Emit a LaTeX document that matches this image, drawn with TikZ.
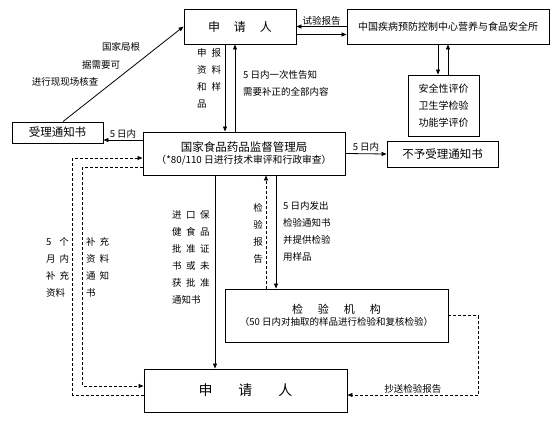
\documentclass[tikz,border=0pt]{standalone}
\usepackage{fontspec}
\setmainfont{Noto Sans CJK SC}
\usetikzlibrary{arrows.meta, calc}
\newcommand{\chgap}[1][5pt]{\hspace{#1}}

\begin{document}
\begin{tikzpicture}[x=1pt, y=-1pt,
    box/.style={draw, line width=0.9pt, inner sep=0pt, align=center},
    lbl/.style={font=\fontsize{9.5}{17}\selectfont, inner sep=0pt, align=left},
    arr/.style={-{Triangle[length=5pt,width=4pt]}, line width=0.8pt},
    dsh/.style={arr, dash pattern=on 3pt off 2pt}]
    \useasboundingbox (0,0) rectangle (560,428);
    % boxes
    \node[box, minimum width=112pt, minimum height=35pt, font=\fontsize{12}{14}\selectfont] (app1) at (240,26.5) {申\chgap[14pt]请\chgap[14pt]人};
    \node[box, minimum width=202pt, minimum height=35pt, font=\fontsize{10}{12}\selectfont] (cdc) at (448,26.5) {中国疾病预防控制中心营养与食品安全所};
    \node[box, minimum width=71pt, minimum height=61pt, font=\fontsize{10}{17}\selectfont] (eval) at (443.5,105.5) {安全性评价\\卫生学检验\\功能学评价};
    \node[box, minimum width=91pt, minimum height=21pt, font=\fontsize{11.5}{13}\selectfont] (accept) at (57.5,132.5) {受理通知书};
    \node[box, minimum width=202pt, minimum height=43pt] (sfda) at (244,153.5)
        {\fontsize{11.5}{18}\selectfont 国家食品药品监督管理局\\\fontsize{9.8}{12}\selectfont （*80/110 日进行技术审评和行政审查）};
    \node[box, minimum width=111pt, minimum height=26pt, font=\fontsize{11.5}{13}\selectfont] (reject) at (442.5,154) {不予受理通知书};
    \node[box, minimum width=223pt, minimum height=53pt] (lab) at (336.5,315.5)
        {\fontsize{11}{16}\selectfont 检\chgap[15pt]验\chgap[15pt]机\chgap[15pt]构\\\fontsize{9.5}{12}\selectfont （50 日内对抽取的样品进行检验和复核检验）};
    \node[box, minimum width=203pt, minimum height=43pt, font=\fontsize{14}{16}\selectfont] (app2) at (245.5,390.5) {申\chgap[26pt]请\chgap[26pt]人};

    % connectors
    \draw[arr] (cdc.west) -- (app1.east) node[midway, above=1pt, lbl] {试验报告};
    \draw[arr] ([yshift=-8pt]app1.east) -- ([yshift=-8pt]cdc.west);
    \draw[arr] ([xshift=-10pt]cdc.south) -- ([xshift=-5.5pt]eval.north);
    \draw[arr] ([xshift=4.5pt]eval.north) -- (cdc.south);
    \draw[arr] ([xshift=-15pt]app1.south) -- ([xshift=-19pt]sfda.north);
    \draw[arr] ([xshift=-9pt]sfda.north) -- ([xshift=-5pt]app1.south);
    \draw[arr] ([xshift=5.5pt]accept.north) -- (app1.west);
    \draw[arr] ([yshift=13.5pt]sfda.west) -- ([yshift=-7.5pt]accept.east) node[midway, above=1pt, lbl] {5 日内};
    \draw[arr] (sfda.east) -- (reject.west) node[midway, above=2pt, lbl] {5 日内};
    \draw[arr] ([xshift=-29pt]sfda.south) -- ([xshift=-29pt]sfda.south |- app2.north);
    \draw[arr] ([xshift=32pt]sfda.south) -- ([xshift=32pt]sfda.south |- lab.north);
    \draw[dsh] ([xshift=-70.5pt]lab.north) -- ([xshift=-70.5pt]lab.north |- sfda.south);
    \draw[dsh] (lab.east) -- ++(30pt,0) |- ([yshift=-4.5pt]app2.east) node[pos=0.75, above=1pt, lbl] {抄送检验报告};
    \draw[dsh] ([yshift=-4.5pt]app2.west) -- ++(-71pt,0) |- ([yshift=-4.5pt]sfda.west);
    \draw[dsh] ([yshift=-13.5pt]sfda.west) -- ++(-60pt,0) |- ([yshift=4.5pt]app2.west);

    % labels
    \foreach \t/\x/\y [count=\i] in {国家局根/121/47, 据需要可/101/65, 进行现现场核查/65/82} {
        \node[lbl] (chk\i) at (\x,\y) {\t};
    }
    \node[lbl, anchor=north west] (sub) at (197,48.5) {申\chgap 报\\资\chgap 料\\和\chgap 样\\品};
    \node[lbl, anchor=north west] (fix) at (243,70.5) {5 日内一次性告知\\需要补正的全部内容};
    \node[lbl, anchor=north west] (late) at (46,237.5) {5\chgap[8pt]个\\月\chgap[4pt]内\\补\chgap[4pt]充\\资料};
    \node[lbl, anchor=north west] (more) at (86,237.5) {补\chgap[4pt]充\\资\chgap[4pt]料\\通\chgap[4pt]知\\书};
    \node[lbl, anchor=north west] (cert) at (172,210.5) {进\chgap[4.5pt]口\chgap[4.5pt]保\\健\chgap[4.5pt]食\chgap[4.5pt]品\\批\chgap[4.5pt]准\chgap[4.5pt]证\\书\chgap[4.5pt]或\chgap[4.5pt]未\\获\chgap[4.5pt]批\chgap[4.5pt]准\\通知书};
    \node[lbl, anchor=north, align=center] (rep) at (258,203.5) {检\\验\\报\\告};
    \node[lbl, anchor=north west] (send) at (283,201.5) {5 日内发出\\检验通知书\\并提供检验\\用样品};
\end{tikzpicture}
\end{document}
